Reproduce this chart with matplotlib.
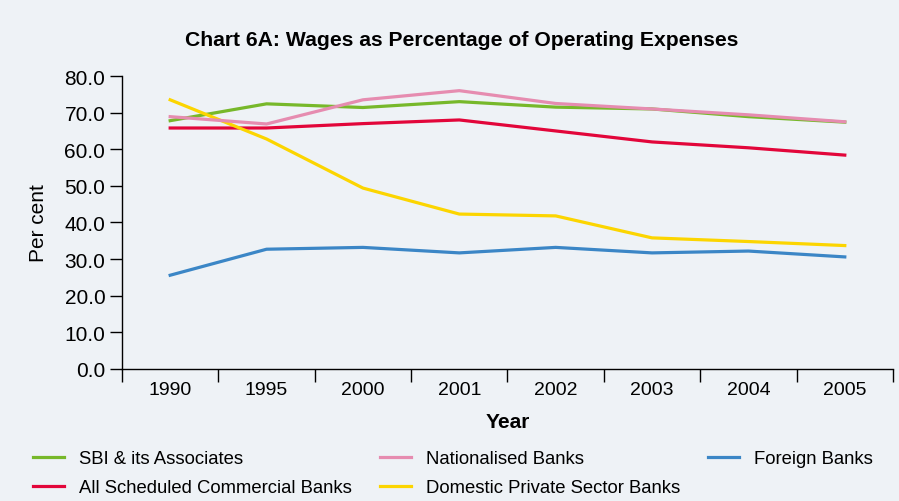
import numpy as np
import matplotlib
matplotlib.use("Agg")
from matplotlib import pyplot as plt

plt.rcParams['font.family'] = ['Liberation Sans', 'DejaVu Sans']

years = ["1990", "1995", "2000", "2001", "2002", "2003", "2004", "2005"]
sbi = [67.8, 72.4, 71.4, 73.0, 71.5, 71.0, 68.9, 67.4]
nationalised = [68.9, 66.9, 73.5, 76.0, 72.5, 71.0, 69.4, 67.5]
all_scb = [65.8, 65.8, 67.0, 68.0, 65.0, 62.0, 60.4, 58.4]
private = [73.5, 62.8, 49.4, 42.3, 41.8, 35.8, 34.8, 33.7]
foreign = [25.6, 32.7, 33.2, 31.7, 33.2, 31.7, 32.2, 30.6]

bg = "#eef2f6"
fig = plt.figure(figsize=(8.99, 5.02), dpi=100, facecolor=bg)
ax = fig.add_axes([0.1357, 0.263, 0.8576, 0.5836], facecolor=bg)

x = np.arange(len(years))
lw = 2.3
l_sbi, = ax.plot(x, sbi, color="#77b82a", lw=lw, label="SBI & its Associates")
l_scb, = ax.plot(x, all_scb, color="#e2063a", lw=lw, label="All Scheduled Commercial Banks")
l_pvt, = ax.plot(x, private, color="#fcd500", lw=lw, label="Domestic Private Sector Banks")
l_for, = ax.plot(x, foreign, color="#3b86c6", lw=lw, label="Foreign Banks")
l_nat, = ax.plot(x, nationalised, color="#e68cb0", lw=lw, label="Nationalised Banks")

ax.set_xlim(-0.5, len(years) - 0.5)
ax.set_ylim(0, 80)
ax.set_yticks(np.arange(0, 81, 10))
ax.set_yticklabels([f"{v:.1f}" for v in np.arange(0, 81, 10)], fontsize=15)
ax.set_xticks(x)
ax.set_xticklabels(years, fontsize=14)
ax.set_xticks(np.arange(-0.5, len(years), 1), minor=True)
ax.tick_params(axis='x', which='major', length=0, pad=9)
ax.tick_params(axis='x', which='minor', length=9, width=1, direction='out')
ax.tick_params(axis='y', length=9, width=1, pad=3)
for s in ["top", "right"]:
    ax.spines[s].set_visible(False)
for s in ["left", "bottom"]:
    ax.spines[s].set_linewidth(1)

ax.set_ylabel("Per cent", fontsize=15, labelpad=12)
ax.set_xlabel("Year", fontsize=15, fontweight="bold", labelpad=10)
fig.text(0.514, 0.92, "Chart 6A: Wages as Percentage of Operating Expenses",
         ha="center", va="center", fontsize=15.2, fontweight="bold")

handles = [l_sbi, l_scb, l_nat, l_pvt, l_for]
fig.legend(handles, [h.get_label() for h in handles], ncol=3, frameon=False,
           loc="lower left", bbox_to_anchor=(0.018, -0.024), fontsize=13.3,
           handlelength=1.7, handletextpad=0.8, columnspacing=1.5,
           labelspacing=0.65)

fig.savefig("out.png", dpi=100, facecolor=bg)
